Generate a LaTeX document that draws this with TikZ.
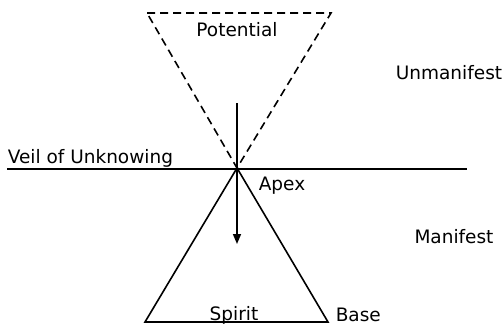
\documentclass[tikz,border=0pt]{standalone}
\usepackage{fontspec}
\setmainfont{DejaVu Sans}
\usetikzlibrary{arrows.meta}
\begin{document}
\begin{tikzpicture}[x=1pt,y=-1pt, line width=1.6pt,
  lbl/.style={font=\fontsize{18.5}{20}\selectfont, inner sep=0pt},
  dashline/.style={dash pattern=on 8pt off 5pt}]
\useasboundingbox (0,0) rectangle (503,325);
\coordinate (apex) at (237,168);
\coordinate (tl) at (147,13);
\coordinate (tr) at (331,13);
\coordinate (bl) at (145,322);
\coordinate (br) at (328,322);
\coordinate (vl) at (7,169);
\coordinate (vr) at (467,169);
\coordinate (as) at (237,103);
\coordinate (ae) at (237,244);
\draw[dashline] (tl) -- (tr) -- (apex) -- cycle;
\draw (vl) -- (vr);
\draw[line join=miter] (apex) -- (bl) -- (br) -- cycle;
\draw[-{Triangle[length=10pt,width=8pt]}] (as) -- (ae);
\node[lbl] (pot) at (237,30) {Potential};
\node[lbl] (unm) at (449,73) {Unmanifest};
\node[lbl] (man) at (454,237) {Manifest};
\node[lbl, anchor=base west] (veil) at (7,163) {Veil of Unknowing};
\node[lbl, anchor=west] (apx) at (258,186) {Apex};
\node[lbl, anchor=base] (spi) at (234,320) {Spirit};
\node[lbl, anchor=base west] (bas) at (335,321) {Base};
\end{tikzpicture}
\end{document}
